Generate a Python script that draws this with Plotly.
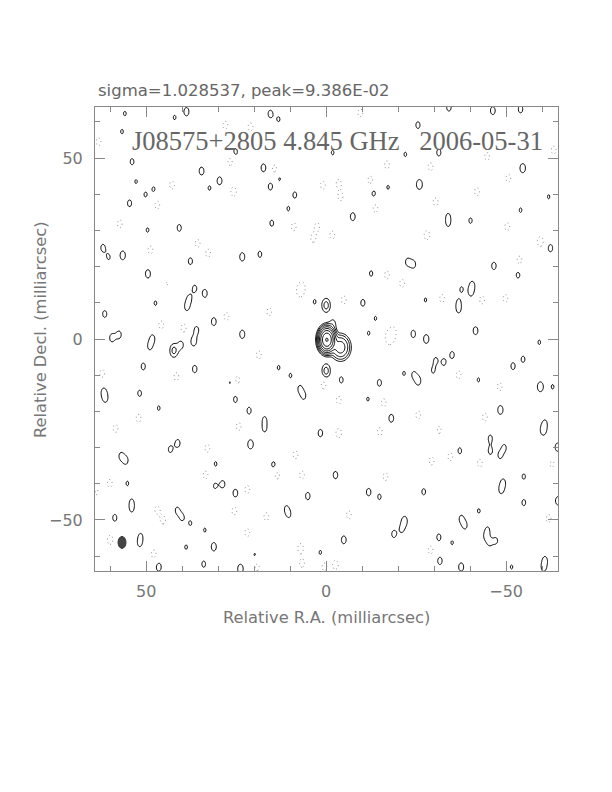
import numpy as np
import plotly.graph_objects as go

# ---------------- data (mas) ----------------
title_text = "sigma=1.028537, peak=9.386E-02"
map_label = "J08575+2805 4.845 GHz   2006-05-31"
x_label = "Relative R.A. (milliarcsec)"
y_label = "Relative Decl. (milliarcsec)"
tick_vals = [50, 0, -50]

# restoring beam: centre RA, Dec, minor, major (mas)
beam_ra, beam_dec, beam_minor, beam_major = 56.7, -56.2, 2.2, 3.3

# source components: (RA, Dec, peak in units of lowest contour, sigma_ra, sigma_dec)
source_components = [
    (-0.2, -0.2, 135.0, 1.0, 1.5),
    (-4.0, -2.3, 12.0, 1.35, 1.75),
    (-1.9, 4.2, 1.3, 0.85, 1.4),
    (0.0, 9.3, 2.6, 0.85, 1.4),
    (0.0, -8.8, 2.6, 0.85, 1.4),
    (42.3, -3.2, 2.4, 0.85, 1.4),
    (40.3, -1.6, 1.3, 0.85, 1.4),
]

# positive noise peaks (RA, Dec, peak)
pos_ne = [
    (38.8, 62.8, 1.4), (42.1, 61.2, 1.1), (55.9, 62.3, 1.1), (15.5, 62.2, 1.3),
    (13.2, 60.7, 1.1), (56.7, 57.3, 1.1), (25.2, 51.7, 1.25), (53.9, 49.0, 1.2),
    (34.6, 46.4, 1.35), (17.4, 47.3, 1.35), (13.0, 44.3, 1.1), (29.6, 43.7, 1.35),
    (15.5, 42.1, 1.25), (47.9, 41.4, 1.1), (32.4, 41.7, 1.1), (52.8, 43.5, 1.08),
    (50.2, 39.9, 1.1), (8.7, 39.8, 1.2), (54.6, 37.5, 1.25), (10.5, 36.0, 1.1),
    (15.1, 32.0, 1.2), (40.8, 30.7, 1.25), (49.6, 30.1, 1.1), (62.0, 25.2, 1.25),
    (56.5, 23.1, 1.45), (60.4, 22.6, 1.1), (37.7, 21.5, 1.25), (23.3, 22.7, 1.4),
    (18.4, 23.4, 1.2), (49.5, 18.0, 1.4), (44.4, 17.9, 1.2), (36.5, 14.0, 1.2),
    (38.0, 11.2, 1.15), (38.7, 8.8, 1.2), (33.7, 12.6, 1.35), (47.4, 9.9, 1.1),
    (61.5, 6.9, 1.25), (31.2, 4.8, 1.35), (36.0, 2.5, 1.25), (23.3, 1.3, 1.4),
    (59.5, 0.3, 1.3), (57.5, 1.2, 1.25), (3.2, 10.3, 1.1),
]
pos_nw = [
    (-34.1, 64.0, 1.3), (-46.3, 63.1, 1.35), (-54.0, 63.5, 1.3), (-25.5, 59.1, 1.25),
    (-31.3, 51.5, 1.25), (-22.0, 51.0, 1.1), (-1.8, 51.5, 1.1), (-54.6, 47.2, 1.5),
    (-25.9, 42.7, 1.6), (-13.2, 40.2, 1.2), (-17.2, 41.9, 1.08), (-54.0, 35.6, 1.1),
    (-61.8, 39.3, 1.08), (-7.4, 33.8, 1.35), (-33.9, 34.0, 1.0), (-33.9, 31.8, 1.0),
    (-40.1, 32.7, 1.15), (-62.3, 25.1, 1.3), (-22.6, 21.3, 1.2), (-24.3, 20.6, 1.2),
    (-46.6, 20.2, 1.3), (-53.3, 17.7, 1.2), (-12.5, 18.1, 1.15), (-40.6, 15.0, 1.15),
    (-40.2, 12.8, 1.15), (-37.6, 13.8, 1.1), (-36.8, 10.2, 1.0), (-36.8, 8.0, 1.05),
    (-10.2, 10.0, 1.25), (-27.6, 10.8, 1.08), (-41.5, 2.3, 1.35), (-27.8, 0.0, 1.45),
    (-24.2, 1.4, 1.3), (-13.7, 5.7, 1.08), (-11.8, 1.6, 1.08),
]
pos_sw = [
    (48.2, 0.2, 1.2), (49.0, -2.1, 1.15), (36.8, -0.7, 1.45), (50.8, -7.6, 1.25),
    (36.5, -8.3, 1.3), (13.2, -7.9, 1.1), (9.9, -10.1, 1.1), (26.6, -12.0, 1.1),
    (61.8, -14.5, 1.15), (61.3, -16.5, 1.15), (51.8, -15.0, 1.2), (7.3, -13.7, 1.15),
    (6.2, -15.8, 1.15), (25.2, -16.7, 1.2), (46.5, -19.1, 1.1), (21.4, -19.8, 1.25),
    (17.1, -22.2, 1.1), (17.1, -24.9, 1.1), (1.6, -26.0, 1.3), (41.2, -28.8, 1.3),
    (43.3, -30.5, 1.2), (21.0, -29.1, 1.5), (55.6, -33.6, 1.2), (57.0, -32.3, 1.15),
    (14.6, -34.8, 1.25), (30.7, -34.5, 1.1), (28.7, -40.1, 1.25), (30.9, -40.6, 1.1),
    (25.2, -42.6, 1.35), (5.1, -43.4, 1.3), (55.2, -39.9, 1.1), (62.5, -44.3, 1.2),
    (54.0, -44.9, 1.0), (54.0, -47.1, 1.0), (58.7, -49.4, 1.25), (40.0, -49.3, 1.15),
    (41.4, -47.3, 1.15), (37.7, -50.9, 1.1), (10.3, -48.6, 1.0), (11.1, -46.8, 1.0),
    (51.5, -54.4, 1.0), (51.8, -56.6, 1.05), (31.2, -57.4, 1.4), (38.9, -57.5, 1.1),
    (46.5, -63.0, 1.4), (34.0, -62.2, 1.2), (23.8, -63.5, 1.5), (19.8, -59.7, 1.1),
    (1.6, -59.0, 1.1), (33.7, -52.8, 1.08),
]
pos_se = [
    (-35.0, -4.4, 1.25), (-32.7, -6.4, 1.2), (-30.4, -5.8, 1.08), (-59.2, -0.9, 1.1),
    (-54.7, -5.6, 1.2), (-51.9, -7.5, 1.25), (-4.2, -11.3, 1.2), (-14.8, -12.1, 1.25),
    (-25.6, -11.6, 1.35), (-21.6, -9.5, 1.08), (-24.3, -9.8, 1.08), (-29.7, -8.8, 1.08),
    (-42.3, -11.3, 1.08), (-59.5, -13.2, 1.6), (-62.9, -13.2, 1.1), (-11.6, -16.6, 1.08),
    (-48.4, -19.6, 1.45), (-18.1, -21.9, 1.35), (-60.3, -25.3, 1.45), (-60.8, -23.1, 1.0),
    (-29.4, -25.1, 1.08), (-45.6, -27.4, 1.2), (-37.1, -30.9, 1.2), (-45.6, -31.0, 1.2),
    (-48.3, -32.2, 1.15), (-49.5, -30.0, 1.15), (-64.3, -29.9, 1.4), (-2.6, -37.6, 1.3),
    (-54.9, -38.0, 1.15), (-63.5, -37.6, 1.1), (-11.8, -42.3, 1.3), (-14.8, -43.6, 1.15),
    (-27.1, -42.2, 1.2), (-48.6, -41.8, 1.15), (-49.2, -39.6, 1.15), (-54.9, -45.2, 1.2),
    (-64.4, -44.7, 1.4), (-42.4, -47.5, 1.1), (-21.8, -50.2, 1.4), (-37.5, -49.6, 1.15),
    (-38.6, -51.6, 1.15), (-18.8, -53.9, 1.25), (-21.0, -52.6, 1.08), (-31.3, -54.8, 1.25),
    (-35.0, -56.3, 1.08), (-44.9, -52.6, 1.0), (-44.2, -54.6, 0.9), (-45.4, -56.4, 1.0),
    (-47.2, -55.7, 1.1), (-4.9, -55.5, 1.35), (-31.6, -61.3, 1.3), (-37.5, -63.0, 1.4),
    (-60.8, -61.0, 1.15), (-60.4, -63.3, 1.15), (-51.5, -63.0, 1.08),
]

# negative noise troughs (RA, Dec, depth)
neg_north = [
    (63.2, 54.5, 1.35), (28.0, 59.1, 1.35), (21.0, 58.6, 1.35), (26.6, 49.0, 1.35),
    (14.3, 47.0, 1.35), (42.8, 42.5, 1.35), (25.7, 40.7, 1.5), (46.9, 37.0, 1.35),
    (0.9, 42.5, 1.35), (9.0, 31.0, 1.35), (2.5, 31.0, 1.35), (3.6, 27.8, 1.35),
    (35.7, 26.4, 1.35), (32.8, 23.7, 1.35), (48.8, 24.6, 1.35), (57.3, 31.8, 1.35),
    (7.3, 13.1, 1.5), (15.8, 7.5, 1.35), (44.2, 15.8, 1.35), (27.7, 6.2, 1.35),
    (39.6, 3.0, 1.4), (45.8, 3.9, 1.35), (6.7, 14.4, 1.35),
    (-9.5, 62.5, 1.35), (-44.7, 50.4, 1.35), (-63.2, 52.2, 1.35), (-16.9, 48.1, 1.35),
    (-29.0, 47.6, 1.35), (-3.5, 43.0, 1.35), (-4.0, 39.3, 1.35), (-12.3, 43.9, 1.35),
    (-41.9, 40.7, 1.35), (-50.6, 44.4, 1.35), (-13.7, 36.1, 1.35), (-30.4, 37.9, 1.35),
    (-50.3, 31.0, 1.35), (-28.0, 28.7, 1.5), (-59.5, 26.9, 1.6), (-1.7, 28.7, 1.35),
    (-16.9, 17.7, 1.35), (-21.1, 15.4, 1.35), (-53.7, 21.8, 1.35), (-43.3, 10.8, 1.35),
    (-49.8, 11.2, 1.35), (-4.9, 10.8, 1.35), (-18.6, 2.0, 1.35), (-32.2, 11.2, 1.35),
    (-17.9, 0.6, 1.35),
]
neg_south = [
    (62.2, -9.5, 1.35), (41.6, -10.4, 1.35), (24.7, -11.3, 1.35), (18.7, -4.4, 1.35),
    (0.7, -12.7, 1.35), (52.1, -21.9, 1.35), (58.5, -24.7, 1.35), (24.3, -24.2, 1.35),
    (33.0, -30.2, 1.35), (8.5, -32.0, 1.35), (33.5, -37.6, 1.35), (13.6, -37.6, 1.35),
    (6.7, -37.6, 1.35), (60.1, -39.9, 1.35), (63.6, -42.6, 1.35), (21.9, -41.6, 1.35),
    (46.9, -47.2, 1.35), (45.3, -50.0, 1.35), (25.5, -47.5, 1.35), (16.6, -49.1, 1.35),
    (21.9, -53.5, 1.35), (60.0, -55.5, 1.5), (47.9, -59.4, 1.35), (7.1, -57.8, 1.5),
    (6.7, -62.0, 1.35), (19.2, -62.9, 1.35), (0.5, -62.9, 1.35),
    (-17.4, 0.2, 1.35), (-3.5, -16.9, 1.35), (-16.0, -17.6, 1.35), (-36.8, -9.9, 1.35),
    (-48.2, -13.2, 1.35), (-25.6, -21.0, 1.35), (-44.1, -21.6, 1.35), (-3.5, -26.0, 1.5),
    (-14.9, -25.6, 1.35), (-31.3, -25.1, 1.35), (-29.3, -33.7, 1.35), (-34.5, -32.5, 1.35),
    (-42.7, -34.3, 1.35), (-62.8, -34.8, 1.35), (-16.5, -38.0, 1.35), (-6.3, -48.6, 1.35),
    (-29.0, -58.3, 1.35), (-2.6, -62.4, 1.5), (-61.8, -49.6, 1.35),
]

# ---------------- build the map from the components ----------------
noise_sig_ra, noise_sig_dec = 0.85, 1.4
grid = np.arange(-65.0, 65.01, 0.25)
RA, DEC = np.meshgrid(grid, grid)
image = np.zeros_like(RA)


def add_gauss(ra0, dec0, amp, sra, sdec):
    global image
    image += amp * np.exp(-0.5 * ((RA - ra0) / sra) ** 2 - 0.5 * ((DEC - dec0) / sdec) ** 2)


for ra0, dec0, amp, sra, sdec in source_components:
    add_gauss(ra0, dec0, amp, sra, sdec)
for group in (pos_ne, pos_nw, pos_sw, pos_se):
    for ra0, dec0, amp in group:
        add_gauss(ra0, dec0, amp, noise_sig_ra, noise_sig_dec)
for group in (neg_north, neg_south):
    for ra0, dec0, amp in group:
        add_gauss(ra0, dec0, -amp, noise_sig_ra, noise_sig_dec)

z_pos = np.round(np.log2(np.clip(image, 0.125, None)), 2)
z_neg = np.round(np.clip(-image, 0, 3), 2)

fig = go.Figure()
fig.add_trace(go.Contour(
    x=grid, y=grid, z=z_neg, autocontour=False,
    contours=dict(coloring="none", start=1, end=1.5, size=1),
    line=dict(color="#8a8a8a", width=1, dash="1px,3px", smoothing=1),
    showscale=False, hoverinfo="skip"))
fig.add_trace(go.Contour(
    x=grid, y=grid, z=z_pos, autocontour=False,
    contours=dict(coloring="none", start=0, end=7, size=1),
    line=dict(color="black", width=1, smoothing=1),
    showscale=False, hoverinfo="skip"))

fig.add_shape(type="circle", xref="x", yref="y",
              x0=beam_ra - beam_minor / 2, x1=beam_ra + beam_minor / 2,
              y0=beam_dec - beam_major / 2, y1=beam_dec + beam_major / 2,
              fillcolor="#444444", line=dict(color="#333333", width=1))

axis_common = dict(
    tickvals=tick_vals, ticks="inside", ticklen=10, tickcolor="#888888", tickwidth=1,
    showline=True, linecolor="#888888", linewidth=1, mirror="ticks",
    showgrid=False, zeroline=False,
    minor=dict(dtick=10, ticks="inside", ticklen=5, tickcolor="#888888", tickwidth=1),
    tickfont=dict(family="DejaVu Sans", size=16, color="#777777"),
)
fig.update_xaxes(range=[64.2, -64.4], ticklabelstandoff=6, **axis_common)
fig.update_yaxes(range=[-64.1, 64.1], ticklabelstandoff=8, **axis_common)

# frame position in the reference picture (px); the page body adds an 8 px offset
W0, W1, H0, H1 = 95, 558, 107, 571
BODY = 8
FIG_W, FIG_H = 612 - BODY, 792 - BODY


def px(xp):
    return (xp - W0) / (W1 - W0)


def py(yp):
    return (H1 - yp) / (H1 - H0)


fig.update_layout(
    width=FIG_W, height=FIG_H, autosize=False,
    margin=dict(l=W0 - BODY, r=612 - W1, t=H0 - BODY, b=792 - H1),
    paper_bgcolor="white", plot_bgcolor="white", showlegend=False,
    annotations=[
        dict(text=title_text, xref="paper", yref="paper", x=px(96), y=py(90),
             xanchor="left", yanchor="middle", showarrow=False,
             font=dict(family="DejaVu Sans", size=16.5, color="#666666")),
        dict(text=map_label, xref="paper", yref="paper", x=px(337.5), y=py(141),
             xanchor="center", yanchor="middle", showarrow=False,
             font=dict(family="Liberation Serif", size=26.5, color="#666666")),
        dict(text=x_label, xref="paper", yref="paper", x=px(326), y=py(617),
             xanchor="center", yanchor="middle", showarrow=False,
             font=dict(family="DejaVu Sans", size=16.3, color="#777777")),
        dict(text=y_label, xref="paper", yref="paper", x=px(40), y=py(330),
             xanchor="center", yanchor="middle", showarrow=False, textangle=-90,
             font=dict(family="DejaVu Sans", size=16.3, color="#777777")),
    ],
)

fig.write_html("out.html")
